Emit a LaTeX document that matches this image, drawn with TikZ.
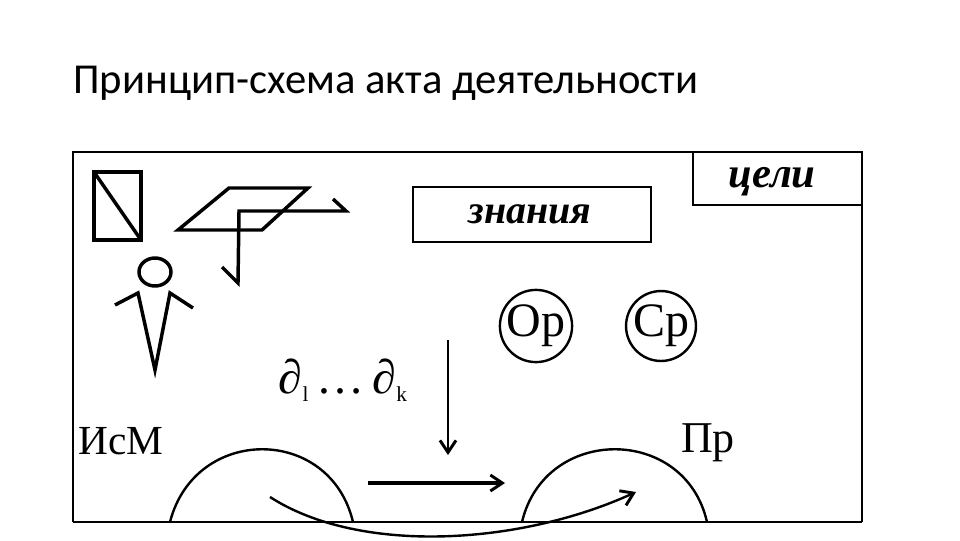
\documentclass[tikz,border=0pt]{standalone}
\usepackage{fontspec}
\setmainfont{Liberation Serif}
\newfontfamily\titlefont{Carlito}
\usetikzlibrary{arrows.meta}
\begin{document}
\begin{tikzpicture}[x=0.75pt,y=-0.75pt,
  thick/.style={line width=2.6pt},
  med/.style={line width=1.8pt},
  lbl/.style={font=\fontsize{26}{28}\selectfont, inner sep=0},
  ital/.style={font=\fontsize{32}{34}\selectfont\itshape\bfseries, inner sep=0},
  arr/.style={-{Straight Barb[length=9pt,width=12pt,line width=2.2pt]}}]
\useasboundingbox (0,0) rectangle (960,540);
\node[anchor=west, font=\titlefont\fontsize{32}{34}\selectfont, inner sep=0] (title) at (73,83) {Принцип-схема акта деятельности};
% frame
\draw[med] (73,522) -- (73,152) -- (862,152) -- (862,522);
\draw[med] (73,522) coordinate (bl) -- (862,522) coordinate (br);
% boxes
\draw[med] (693,152) rectangle (862,205);
\node[ital] (celi) at (772,182) {цели};
\draw[med] (413,187) rectangle (651,242);
\node[ital, font=\fontsize{30}{32}\selectfont\itshape\bfseries] (zn) at (530,214) {знания};
% small rectangle
\draw[thick] (94,172) rectangle (141,240);
\draw[thick] (94,172) -- (141,240);
% parallelogram
\draw[thick] (178,230) -- (229,188) -- (308,188) -- (262,230) -- cycle;
\draw[thick] (222,267) -- (238,283) -- (239,211) -- (346,211) -- (333,199);
% person
\draw[thick] (155,272) ellipse (16 and 14);
\draw[thick] (115,305) -- (138,293) -- (155,370) -- (170,293) -- (193,308);
% circles
\node[draw, med, circle, minimum size=66pt*0.75, inner sep=0, lbl, font=\fontsize{36}{38}\selectfont] (op) at (536,326) {Op};
\node[draw, med, circle, minimum size=66pt*0.75, inner sep=0, lbl, font=\fontsize{36}{38}\selectfont] (cp) at (661,326) {Cp};
% d1 ... dk
\node[lbl, font=\fontsize{36}{38}\selectfont] (d) at (343,380) {∂\raisebox{-0.35ex}{\fontsize{16}{16}\selectfont l}\,…\,∂\raisebox{-0.35ex}{\fontsize{16}{16}\selectfont k}};
\coordinate (vtop) at (448,340);
\coordinate (vbot) at (448,455);
\draw[med, arr] (vtop) -- (vbot);
% labels
\node[lbl, font=\fontsize{31}{33}\selectfont] (ism) at (121,441) {ИсМ};
\node[lbl, font=\fontsize{33}{35}\selectfont] (pr) at (708,443) {Пр};
% humps
\draw[med] (170,522) .. controls (195,425) and (330,425) .. (353,522);
\draw[med] (522,522) .. controls (545,425) and (685,425) .. (707,522);
% arrows
\coordinate (h1) at (368,483);
\coordinate (h2) at (505,483);
\draw[thick, arr] (h1) -- (h2);
\coordinate (c1) at (270,497);
\coordinate (c2) at (636,492);
\draw[med, arr] (c1) .. controls (360,555) and (520,545) .. (c2);
\end{tikzpicture}
\end{document}
